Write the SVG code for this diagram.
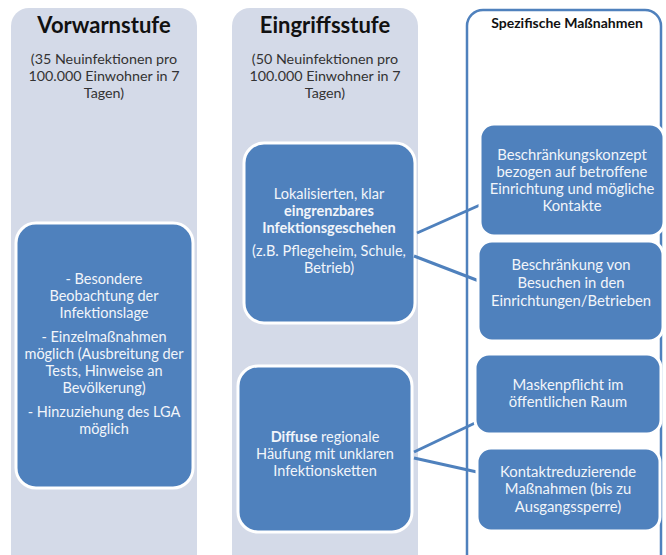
<svg xmlns="http://www.w3.org/2000/svg" width="666" height="555" viewBox="0 0 666 555">
<style>
.panel{fill:#D4DAE8}
.box{fill:#4F81BD;stroke:#FFFFFF;stroke-width:3}
.t{font-family:Lato,"Open Sans",sans-serif;text-anchor:middle}
.title{font-size:22px;font-weight:bold;fill:#111}
.sub{font-size:14.3px;fill:#333}
.w{font-size:14.5px;fill:#F2F5FA}
.wr{font-size:14.8px;fill:#F2F5FA}
.b{font-weight:bold}
.conn{stroke:#4F81BD;stroke-width:3;fill:none}
</style>
<rect width="666" height="555" fill="#FFFFFF"/>
<g id="vorwarnstufe">
<rect class="panel" x="11" y="8" width="186" height="570" rx="18"/>
<text class="t title" x="104" y="33">Vorwarnstufe</text>
<text class="t sub" x="104" y="64">(35 Neuinfektionen pro</text>
<text class="t sub" x="104" y="81">100.000  Einwohner in 7</text>
<text class="t sub" x="104" y="98">Tagen)</text>
</g>
<g id="vorwarn-massnahmen">
<rect class="box" x="16" y="223" width="177" height="265" rx="20"/>
<text class="t w" x="104" y="284">- Besondere</text>
<text class="t w" x="104" y="301">Beobachtung der</text>
<text class="t w" x="104" y="318">Infektionslage</text>
<text class="t w" x="104" y="342">- Einzelmaßnahmen</text>
<text class="t w" x="104" y="359">möglich (Ausbreitung der</text>
<text class="t w" x="104" y="376">Tests, Hinweise an</text>
<text class="t w" x="104" y="393">Bevölkerung)</text>
<text class="t w" x="104" y="417">- Hinzuziehung des LGA</text>
<text class="t w" x="104" y="434">möglich</text>
</g>
<g id="eingriffsstufe">
<rect class="panel" x="232" y="8" width="186" height="570" rx="18"/>
<text class="t title" x="325" y="33">Eingriffsstufe</text>
<text class="t sub" x="325" y="64">(50 Neuinfektionen pro</text>
<text class="t sub" x="325" y="81">100.000  Einwohner in 7</text>
<text class="t sub" x="325" y="98">Tagen)</text>
</g>
<g id="lokal">
<rect class="box" x="244" y="143" width="171" height="180" rx="20"/>
<text class="t w" x="329" y="199">Lokalisierten, klar</text>
<text class="t w b" x="329" y="216">eingrenzbares</text>
<text class="t w b" x="329" y="233">Infektionsgeschehen</text>
<text class="t w" x="329" y="256">(z.B. Pflegeheim, Schule,</text>
<text class="t w" x="329" y="273">Betrieb)</text>
</g>
<g id="diffus">
<rect class="box" x="238" y="366" width="174" height="166" rx="20"/>
<text class="t w" x="325" y="442"><tspan class="b">Diffuse</tspan> regionale</text>
<text class="t w" x="325" y="459">Häufung mit unklaren</text>
<text class="t w" x="325" y="476">Infektionsketten</text>
</g>
<g id="spezifisch">
<rect x="467" y="10" width="194" height="570" rx="16" fill="none" stroke="#4F81BD" stroke-width="2.5"/>
<text class="t b" x="567" y="28" font-size="14" fill="#111">Spezifische Maßnahmen</text>
</g>
<g id="connectors">
<line class="conn" x1="417" y1="233" x2="480" y2="205"/>
<line class="conn" x1="414" y1="256" x2="479" y2="281"/>
<line class="conn" x1="414" y1="452" x2="475" y2="423"/>
<line class="conn" x1="414" y1="458" x2="477" y2="472"/>
</g>
<g id="r1">
<rect class="box" x="480" y="124" width="184" height="112" rx="14"/>
<text class="t wr" x="572" y="160">Beschränkungskonzept</text>
<text class="t wr" x="572" y="177">bezogen auf betroffene</text>
<text class="t wr" x="572" y="194">Einrichtung und mögliche</text>
<text class="t wr" x="572" y="211">Kontakte</text>
</g>
<g id="r2">
<rect class="box" x="478" y="241" width="185" height="100" rx="14"/>
<text class="t wr" x="571" y="270">Beschränkung von</text>
<text class="t wr" x="571" y="288">Besuchen in den</text>
<text class="t wr" x="571" y="306">Einrichtungen/Betrieben</text>
</g>
<g id="r3">
<rect class="box" x="475" y="354" width="186" height="80" rx="14"/>
<text class="t wr" x="568" y="390">Maskenpflicht im</text>
<text class="t wr" x="568" y="407">öffentlichen Raum</text>
</g>
<g id="r4">
<rect class="box" x="477" y="448" width="183" height="83" rx="14"/>
<text class="t wr" x="568" y="477">Kontaktreduzierende</text>
<text class="t wr" x="568" y="494">Maßnahmen (bis zu</text>
<text class="t wr" x="568" y="512">Ausgangssperre)</text>
</g>
</svg>
